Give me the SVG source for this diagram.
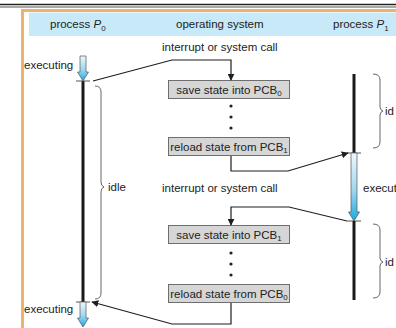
<svg xmlns="http://www.w3.org/2000/svg" width="396" height="328" viewBox="0 0 396 328">
  <style>
    text { font-family: "Liberation Sans", Arial, sans-serif; font-size: 11.5px; fill: #222; }
    .hdr { font-size: 11.5px; }
    .box rect { fill: #d6d6d6; stroke: #6e6e6e; stroke-width: 1; }
    .box text { text-anchor: middle; }
    .conn { fill: none; stroke: #1e1e1e; stroke-width: 1.2; }
    .brace { fill: none; stroke: #666; stroke-width: 1; }
    .timeline { stroke: #1a1a1a; stroke-width: 3; }
    .tick { stroke: #555; stroke-width: 1; }
    .exec { fill: url(#execGrad); stroke: #555; stroke-width: 0.7; }
    .dot { fill: #222; }
  </style>
  <defs>
    <marker id="arr" viewBox="0 0 10 10" refX="9" refY="5" markerWidth="7" markerHeight="7" orient="auto" markerUnits="userSpaceOnUse">
      <path d="M0,0 L10,5 L0,10 z" fill="#1e1e1e"/>
    </marker>
    <linearGradient id="execGrad" x1="0" y1="0" x2="0" y2="1">
      <stop offset="0" stop-color="#eef8fd"/>
      <stop offset="0.55" stop-color="#9fd7f0"/>
      <stop offset="1" stop-color="#1ba9df"/>
    </linearGradient>
  </defs>

  <!-- page frame -->
  <line x1="0" y1="4.5" x2="396" y2="4.5" stroke="#222" stroke-width="1.3"/>
  <line x1="0" y1="7" x2="396" y2="7" stroke="#555" stroke-width="1"/>
  <path d="M22.5,328 L22.5,10.5 L396,10.5" fill="none" stroke="#ebb36c" stroke-width="3"/>
  <rect x="29" y="12.5" width="367" height="23.5" fill="#c8e9f7"/>

  <!-- column headers -->
  <g id="headers">
    <text class="hdr" x="50" y="28">process <tspan font-style="italic">P</tspan><tspan font-size="8" dy="3">0</tspan></text>
    <text class="hdr" x="176" y="28">operating system</text>
    <text class="hdr" x="333" y="28">process <tspan font-style="italic">P</tspan><tspan font-size="8" dy="3">1</tspan></text>
  </g>

  <!-- process P0 timeline -->
  <g id="p0">
    <path class="exec" d="M80,56 L86,56 L86,72 L88.5,72 L83,81 L77.5,72 L80,72 z"/>
    <line class="timeline" x1="83" y1="81" x2="83" y2="302"/>
    <line class="tick" x1="76" y1="81" x2="90" y2="81"/>
    <line class="tick" x1="76" y1="302" x2="90" y2="302"/>
    <path class="exec" d="M80,302 L86,302 L86,318 L88.5,318 L83,327 L77.5,318 L80,318 z"/>
    <text x="24" y="69">executing</text>
    <text x="24" y="313">executing</text>
    <path class="brace" d="M95,86 Q101,86 101,92 L101,182 Q101,186 104,187 Q101,188 101,192 L101,293 Q101,299 95,299"/>
    <text x="108" y="191">idle</text>
  </g>

  <!-- process P1 timeline -->
  <g id="p1">
    <line class="timeline" x1="354" y1="74" x2="354" y2="153"/>
    <line class="tick" x1="347" y1="153" x2="361" y2="153"/>
    <path class="exec" d="M351,153 L357,153 L357,212 L359.5,212 L354,221 L348.5,212 L351,212 z"/>
    <line class="tick" x1="347" y1="221" x2="361" y2="221"/>
    <line class="timeline" x1="354" y1="221" x2="354" y2="300"/>
    <text x="363" y="192">execut</text>
    <path class="brace" d="M373,74 Q380,74 380,80 L380,107 Q380,110 383,111 Q380,112 380,115 L380,142 Q380,148 373,148"/>
    <text x="385" y="115">id</text>
    <path class="brace" d="M373,224 Q380,224 380,230 L380,258 Q380,261 383,262 Q380,263 380,266 L380,292 Q380,298 373,298"/>
    <text x="385" y="266">id</text>
  </g>

  <!-- operating system steps -->
  <g id="os-labels">
    <text x="162" y="51">interrupt or system call</text>
    <text x="162" y="192">interrupt or system call</text>
  </g>
  <g id="save0" class="box">
    <rect x="168.5" y="80.5" width="121" height="18"/>
    <text x="229" y="93.5">save state into PCB<tspan font-size="8" dy="2.5">0</tspan></text>
  </g>
  <g id="dots0">
    <circle class="dot" cx="231" cy="106" r="1.6"/>
    <circle class="dot" cx="231" cy="117" r="1.6"/>
    <circle class="dot" cx="231" cy="128" r="1.6"/>
  </g>
  <g id="reload1" class="box">
    <rect x="168.5" y="137.5" width="121" height="18"/>
    <text x="229" y="150.5">reload state from PCB<tspan font-size="8" dy="2.5">1</tspan></text>
  </g>
  <g id="save1" class="box">
    <rect x="168.5" y="225.5" width="121" height="18"/>
    <text x="229" y="238.5">save state into PCB<tspan font-size="8" dy="2.5">1</tspan></text>
  </g>
  <g id="dots1">
    <circle class="dot" cx="231" cy="253" r="1.6"/>
    <circle class="dot" cx="231" cy="264" r="1.6"/>
    <circle class="dot" cx="231" cy="275" r="1.6"/>
  </g>
  <g id="reload0" class="box">
    <rect x="168.5" y="284.5" width="121" height="18"/>
    <text x="229" y="297.5">reload state from PCB<tspan font-size="8" dy="2.5">0</tspan></text>
  </g>

  <!-- connectors -->
  <g id="connectors">
    <path class="conn" d="M93,81 L172,60 L231,60 L231,80" marker-end="url(#arr)"/>
    <path class="conn" d="M231,156 L231,171 L288,171 L348,153" marker-end="url(#arr)"/>
    <path class="conn" d="M347,221 L289,207 L231,207 L231,225" marker-end="url(#arr)"/>
    <path class="conn" d="M231,303 L231,324 L172,324 L92,302" marker-end="url(#arr)"/>
  </g>
</svg>
